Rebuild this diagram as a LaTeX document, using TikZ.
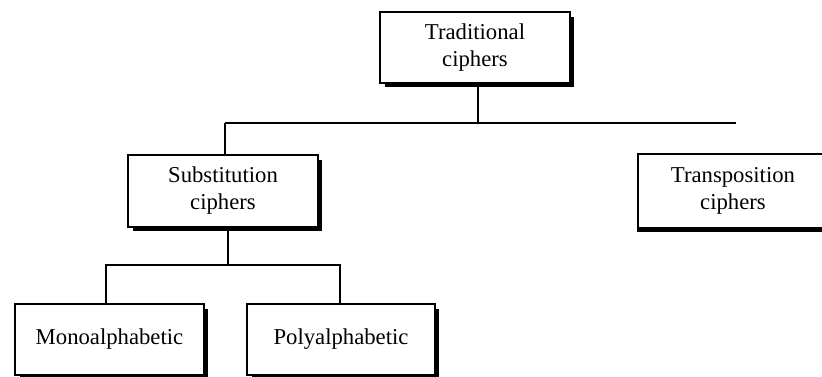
\documentclass[tikz,border=0pt]{standalone}
\usepackage{fontspec}
\setmainfont{Liberation Serif}
\newcommand\boxfont{\fontsize{22.7pt}{27pt}\selectfont}
\begin{document}
\begin{tikzpicture}[x=1pt,y=-1pt,
  box/.style={draw, line width=1.1pt, minimum width=190pt, minimum height=72pt,
    align=center, font=\boxfont, inner sep=0pt},
  shade/.style={line width=3pt},
  conn/.style={line width=1.4pt}]
\useasboundingbox (0,0) rectangle (822,377);
\clip (0,0) rectangle (822,377);
\fill[white] (0,0) rectangle (822,377);
\node[box, minimum height=71pt] (trad) at (475,47.5) {Traditional\\ciphers};
\node[box] (sub) at (223,191) {Substitution\\ciphers};
\node[box, minimum height=74pt] (trans) at (733,191) {Transposition\\ciphers};
\node[box, minimum width=189pt, minimum height=71pt] (mono) at (109.5,339.5) {Monoalphabetic};
\node[box, minimum width=188pt, minimum height=71pt] (poly) at (341,339.5) {Polyalphabetic};
\foreach \n in {trad,sub,mono,poly}{
  \draw[shade] ([shift={(1.5pt,-6pt)}]\n.north east) -- ([shift={(1.5pt,-1.5pt)}]\n.south east) -- ([shift={(6pt,-1.5pt)}]\n.south west);
}
\draw[shade] ([shift={(0pt,-1.5pt)}]trans.south west) -- ([shift={(0pt,-1.5pt)}]trans.south east);
% connectors
\coordinate (j1) at (478,123);
\coordinate (jl) at (225,123);
\coordinate (jr) at (736,123);
\draw[conn] (trad.south -| j1) -- (j1);
\draw[conn] (jl) -- (jr);
\draw[conn] (jl) -- (sub.north -| jl);
\coordinate (j2) at (228,265);
\coordinate (ml) at (106,265);
\coordinate (mr) at (340,265);
\draw[conn] (sub.south -| j2) -- (j2);
\draw[conn] (mono.north -| ml) -- (ml) -- (mr) -- (poly.north -| mr);
\end{tikzpicture}
\end{document}
